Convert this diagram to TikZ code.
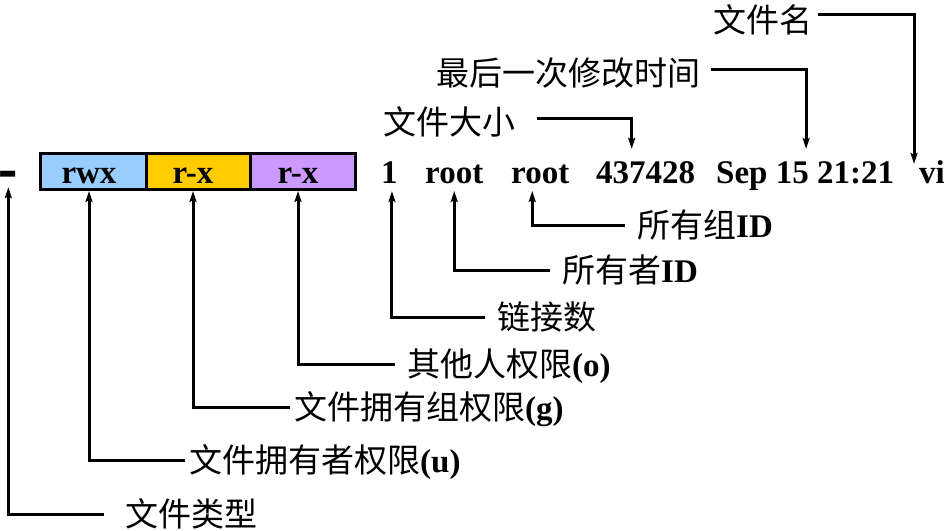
\documentclass[tikz,border=0pt]{standalone}
\usepackage{fontspec}
\setmainfont{Liberation Serif}
\newfontfamily\cjk{Noto Sans CJK SC}
\usetikzlibrary{arrows.meta}
\newcommand\fs{\fontsize{33}{38}\selectfont}
\begin{document}
\begin{tikzpicture}[x=1pt,y=-1pt,
  arr/.style={line width=3pt,-{Stealth[length=11pt,width=7pt,inset=2pt]}},
  lbl/.style={font=\fs, inner ysep=0pt, text height=27pt, text depth=3pt},
  val/.style={font=\fs\bfseries, inner sep=0pt, anchor=base west},
  cell/.style={draw, line width=3pt, minimum height=36pt, inner sep=0pt}]
\useasboundingbox (0,0) rectangle (944,530);
% permission boxes
\node[cell, fill={rgb,255:red,153;green,204;blue,255}, minimum width=105.5pt] (c1) at (93.25,171.5) {};
\node[cell, fill={rgb,255:red,255;green,204;blue,0}, minimum width=104pt] (c2) at (198,171.5) {};
\node[cell, fill={rgb,255:red,204;green,153;blue,255}, minimum width=105.5pt] (c3) at (302.75,171.5) {};
\node[font=\fs\bfseries, inner sep=0pt, anchor=base] (rwx) at (89,183) {rwx};
\node[font=\fs\bfseries, inner sep=0pt, anchor=base] (rxg) at (193,183) {r-x};
\node[font=\fs\bfseries, inner sep=0pt, anchor=base] (rxo) at (298,183) {r-x};
% type dash
\node[val] (dash) at (-1.5,190) {\scalebox{1.75}[2.1]{-}};
% values
\node[val] (one) at (381,183) {1};
\node[val] (owner) at (425,183) {root};
\node[val] (group) at (511,183) {root};
\node[val] (size) at (596,183) {437428};
\node[val] (date) at (716,183) {Sep 15 21:21};
\node[val] (name) at (919,183) {vi};
% lower labels
\node[lbl, anchor=west, inner xsep=21pt] (lType) at (104,514) {\cjk 文件类型};
\node[lbl, anchor=west, inner xsep=4pt] (lU) at (185,460) {{\cjk 文件拥有者权限}\textbf{(u)}};
\node[lbl, anchor=west, inner xsep=4pt] (lG) at (290,407) {{\cjk 文件拥有组权限}\textbf{(g)}};
\node[lbl, anchor=west, inner xsep=12pt] (lO) at (395,364) {{\cjk 其他人权限}\textbf{(o)}};
\node[lbl, anchor=west, inner xsep=12pt] (lLink) at (485,317) {\cjk 链接数};
\node[lbl, anchor=west, inner xsep=12pt] (lOwner) at (550,270) {{\cjk 所有者}\textbf{ID}};
\node[lbl, anchor=west, inner xsep=12pt] (lGroup) at (625,225) {{\cjk 所有组}\textbf{ID}};
% upper labels
\node[lbl, anchor=east, inner xsep=21pt] (lSize) at (537,122) {\cjk 文件大小};
\node[lbl, anchor=east, inner xsep=10pt] (lTime) at (711,73) {\cjk 最后一次修改时间};
\node[lbl, anchor=east, inner xsep=5pt] (lName) at (818,20) {\cjk 文件名};
% connectors up
\draw[arr] (lType.west) -| ([yshift=3pt]dash.south);
\draw[arr] (lU.west) -| (rwx |- c1.south);
\draw[arr] (lG.west) -| (rxg |- c1.south);
\draw[arr] (lO.west) -| (rxo |- c1.south);
\draw[arr] (lLink.west) -| ([xshift=2.5pt]one |- c1.south);
\draw[arr] (lOwner.west) -| (owner |- c1.south);
\draw[arr] (lGroup.west) -| ([xshift=-8pt]group |- c1.south);
% connectors down
\draw[arr] ([yshift=4pt]lSize.east) -| ([xshift=-14pt,yshift=12pt]size.north);
\draw[arr] ([yshift=4pt]lTime.east) -| ([xshift=1pt,yshift=12pt]date.north);
\draw[arr] ([yshift=6pt]lName.east) -| ([xshift=-18pt,yshift=-4pt]name.north);
\end{tikzpicture}
\end{document}
